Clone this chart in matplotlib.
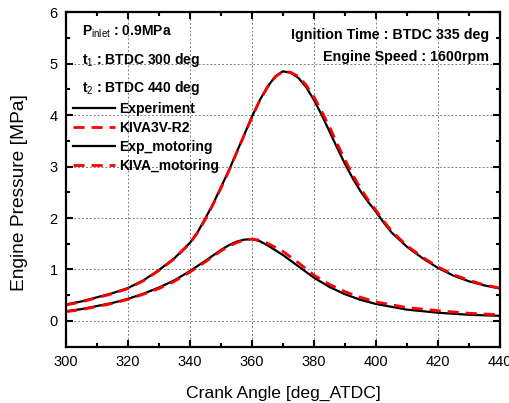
#Engine pressure vs crank angle: experiment vs KIVA (fired and motoring)

import numpy as np
import matplotlib.pyplot as plt

plt.rcParams['font.family']=['Liberation Sans','DejaVu Sans']
plt.rcParams['mathtext.fontset']='custom'
plt.rcParams['mathtext.rm']='Liberation Sans'
plt.rcParams['mathtext.bf']='Liberation Sans:bold'

#Fired case (deg ATDC, MPa)
ca_fired=[300,305,310,315,320,325,330,335,340,342.5,345,347.5,350,352.5,355,357.5,360,362.5,365,367.5,370,372.5,375,377.5,380,382.5,385,387.5,390,392.5,395,397.5,400,402.5,405,410,415,420,425,430,435,440]
p_exp=[0.32,0.38,0.46,0.54,0.64,0.79,0.99,1.22,1.52,1.73,2.00,2.28,2.60,2.92,3.27,3.62,3.97,4.29,4.55,4.75,4.85,4.82,4.72,4.54,4.29,4.00,3.68,3.36,3.05,2.77,2.52,2.31,2.12,1.91,1.72,1.44,1.22,1.03,0.88,0.77,0.69,0.63]
p_kiva=[0.31,0.37,0.45,0.53,0.63,0.78,0.98,1.21,1.51,1.72,1.98,2.27,2.58,2.91,3.26,3.61,3.96,4.28,4.54,4.74,4.85,4.83,4.75,4.58,4.35,4.07,3.77,3.44,3.13,2.84,2.58,2.35,2.15,1.94,1.75,1.46,1.24,1.05,0.90,0.79,0.70,0.64]

#Motoring case
ca_mot=[300,305,310,315,320,325,330,335,340,345,350,352.5,355,357.5,360,362.5,365,370,375,380,385,390,395,400,410,420,430,440]
p_exp_mot=[0.19,0.23,0.29,0.35,0.43,0.53,0.65,0.79,0.97,1.17,1.38,1.47,1.54,1.58,1.59,1.55,1.47,1.28,1.06,0.84,0.66,0.52,0.41,0.33,0.22,0.16,0.12,0.10]
p_kiva_mot=[0.18,0.22,0.28,0.34,0.42,0.52,0.63,0.77,0.95,1.15,1.36,1.45,1.52,1.57,1.59,1.57,1.51,1.35,1.13,0.89,0.71,0.57,0.46,0.37,0.26,0.20,0.15,0.12]

fig=plt.figure(figsize=(5.1,4.03),dpi=100)
ax=fig.add_axes([0.1294,0.1397,0.851,0.8303])

ax.plot(ca_fired,p_exp,'k-',lw=1.6,label='Experiment')
ax.plot(ca_fired,p_kiva,color='red',ls=(0,(4,2.5)),lw=2.0,label='KIVA3V-R2')
ax.plot(ca_mot,p_exp_mot,'k-',lw=1.6,label='Exp_motoring')
ax.plot(ca_mot,p_kiva_mot,color='red',ls=(0,(4,2.5)),lw=2.0,label='KIVA_motoring')

ax.set_xlim(300,440)
ax.set_ylim(-0.5,6)
ax.set_xticks(np.arange(300,441,20))
ax.set_xticks(np.arange(310,440,20),minor=True)
ax.set_yticks(np.arange(0,7,1))
ax.set_yticks(np.arange(0.5,6,1),minor=True)
ax.tick_params(which='both',direction='in',top=True,right=True,width=1.5,labelsize=10.5)
ax.tick_params(which='major',length=5,pad=6)
ax.tick_params(which='minor',length=3)
for s in ax.spines.values():
    s.set_linewidth(1.6)
ax.grid(True,which='major',color='gray',ls=(0,(2,2)),lw=0.7)

ax.set_xlabel('Crank Angle [deg_ATDC]',fontsize=12.6,labelpad=12)
ax.set_ylabel('Engine Pressure [MPa]',fontsize=13.8)
ax.yaxis.set_label_coords(-0.087,0.462)

ax.text(0.037,0.94,r'P$_{\mathrm{inlet}}$ : 0.9MPa',transform=ax.transAxes,fontsize=10,fontweight='bold',va='center')
ax.text(0.037,0.857,r't$_{\mathrm{1}}$ : BTDC 300 deg',transform=ax.transAxes,fontsize=10,fontweight='bold',va='center')
ax.text(0.037,0.772,r't$_{\mathrm{2}}$ : BTDC 440 deg',transform=ax.transAxes,fontsize=10,fontweight='bold',va='center')
ax.text(0.975,0.932,'Ignition Time : BTDC 335 deg',transform=ax.transAxes,fontsize=10.3,fontweight='bold',va='center',ha='right')
ax.text(0.975,0.867,'Engine Speed : 1600rpm',transform=ax.transAxes,fontsize=10.3,fontweight='bold',va='center',ha='right')

ax.legend(loc='upper left',bbox_to_anchor=(0.0,0.751),frameon=False,borderpad=0,
          prop={'weight':'bold','size':10},handlelength=3.0,handletextpad=0.3,labelspacing=0.36)

plt.savefig('out.png',dpi=100)
